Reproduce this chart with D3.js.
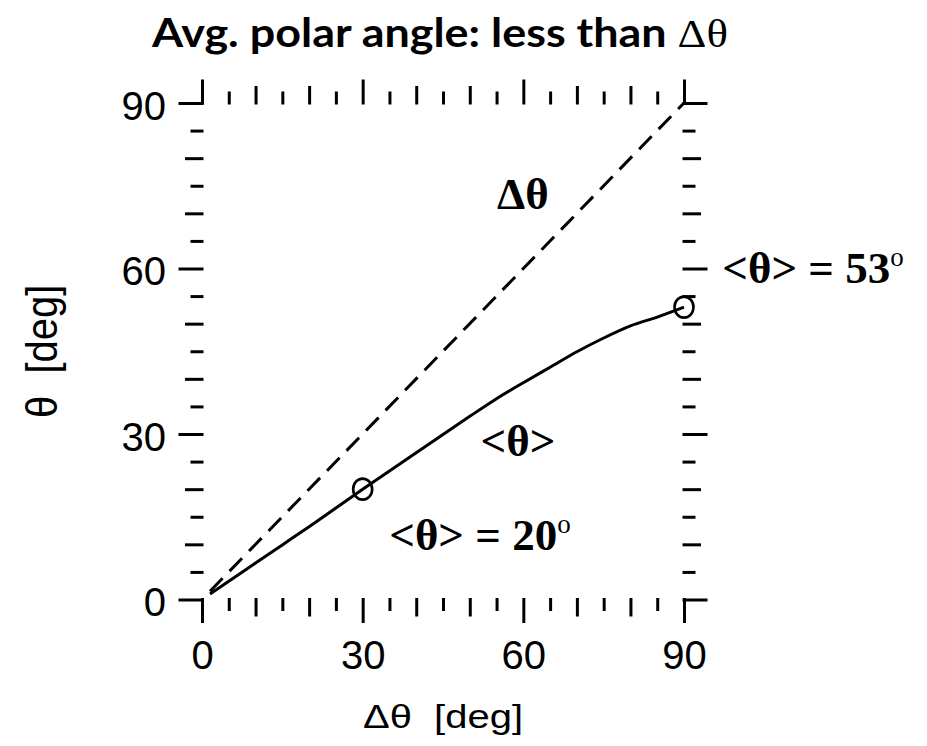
<!DOCTYPE html>
<html>
<head>
<meta charset="utf-8">
<script src="https://cdn.jsdelivr.net/npm/d3@7"></script>
<style>
  html, body { margin: 0; padding: 0; background: #fff; }
  svg { display: block; }
  text { white-space: pre; }
  .tick line { stroke: #000; stroke-width: 3; stroke-linecap: square; }
  .tick text { font-family: "Liberation Sans", Arial, sans-serif; font-size: 40px; fill: #000; }
</style>
</head>
<body>
<svg id="chart" width="927" height="746"></svg>
<script>
// Aperture half-angle Δθ (deg) and the mean polar angle <θ> (deg)
const deltaTheta = [1.5, 5, 10, 15, 20, 25, 30, 35, 40, 45, 50, 55, 60, 65, 70, 75, 80, 85, 90];
const meanTheta  = [1.0, 3.3, 6.6, 9.9, 13.2, 16.6, 20.0, 23.3, 26.6, 29.9, 33.2, 36.4, 39.3, 42.1, 44.9, 47.4, 49.6, 51.2, 53.0];

// Reference line <θ> = Δθ
const diagX = [1.5, 90];
const diagY = [1.5, 90];

// Highlighted points and their values
const markX = [30, 90];
const markY = [20, 53];

// Axis ticks: labelled major ticks, plus medium (every 10) and small (every 5)
const majorTicks = [0, 30, 60, 90];
const mediumTicks = d3.range(10, 90, 10).filter(v => v % 30 !== 0);
const smallTicks = d3.range(5, 90, 10);

const svg = d3.select("#chart");

const x = d3.scaleLinear().domain([0, 90]).range([202, 684]);
const y = d3.scaleLinear().domain([0, 90]).range([599.5, 103]);

// Ticks on all four sides, pointing outward; labels only left and bottom
function drawAxis(axisFn, scale, translate, labelled) {
  [[smallTicks, 10], [mediumTicks, 15.5]].forEach(([vals, size]) => {
    const g = svg.append("g").attr("transform", translate)
      .call(axisFn(scale).tickValues(vals).tickSize(size).tickFormat(""));
    g.select(".domain").remove();
    g.attr("font-family", null).attr("font-size", null);
  });
  const major = svg.append("g").attr("transform", translate)
    .call(axisFn(scale).tickValues(majorTicks).tickSize(22)
      .tickPadding(labelled ? (axisFn === d3.axisLeft ? 14 : 19) : 0)
      .tickFormat(labelled ? d3.format("d") : ""));
  major.select(".domain").remove();
  major.attr("font-family", null).attr("font-size", null);
  return major;
}

const left = drawAxis(d3.axisLeft, y, `translate(${x(0)},0)`, true);
left.selectAll("text").attr("dy", "0.4em");
drawAxis(d3.axisBottom, x, `translate(0,${y(0)})`, true);
drawAxis(d3.axisRight, y, `translate(${x(90)},0)`, false);
drawAxis(d3.axisTop, x, `translate(0,${y(90)})`, false);

// Dashed reference line
svg.append("path")
  .datum(diagX.map((d, i) => [d, diagY[i]]))
  .attr("d", d3.line().x(d => x(d[0])).y(d => y(d[1])))
  .attr("fill", "none").attr("stroke", "#000")
  .attr("stroke-width", 3).attr("stroke-dasharray", "18 10");

// Mean polar angle curve
svg.append("path")
  .datum(deltaTheta.map((d, i) => [d, meanTheta[i]]))
  .attr("d", d3.line().curve(d3.curveMonotoneX).x(d => x(d[0])).y(d => y(d[1])))
  .attr("fill", "none").attr("stroke", "#000").attr("stroke-width", 3);

// Open markers
svg.selectAll("ellipse.mark")
  .data(markX.map((d, i) => [d, markY[i]]))
  .join("ellipse").attr("class", "mark")
  .attr("cx", d => x(d[0])).attr("cy", d => y(d[1]))
  .attr("rx", 9.5).attr("ry", 10.5)
  .attr("fill", "none").attr("stroke", "#000").attr("stroke-width", 2.6);

// Axis titles
svg.append("text")
  .attr("transform", `translate(${(x(0) + x(90)) / 2},728) scale(1,0.85)`)
  .attr("text-anchor", "middle")
  .attr("font-family", "Liberation Sans, Arial, sans-serif")
  .attr("font-size", 40)
  .text("Δθ  [deg]");

svg.append("text")
  .attr("transform", `translate(57,${(y(0) + y(90)) / 2}) rotate(-90) scale(1,1.12)`)
  .attr("text-anchor", "middle")
  .attr("font-family", "Liberation Sans, Arial, sans-serif")
  .attr("font-size", 40)
  .text("θ  [deg]");

// Title
const title = svg.append("text")
  .attr("x", 440).attr("y", 47)
  .attr("text-anchor", "middle")
  .attr("font-family", "Lato, 'Open Sans', sans-serif")
  .attr("font-weight", 700)
  .attr("font-size", 41)
  .attr("textLength", 576).attr("lengthAdjust", "spacingAndGlyphs");
title.append("tspan").text("Avg. polar angle: less than ");
title.append("tspan").attr("font-family", "Liberation Serif, serif").attr("font-weight", 400).text("Δθ");

// Annotations (serif)
function note(cx, cy, main, sup) {
  const t = svg.append("text")
    .attr("x", cx).attr("y", cy)
    .attr("text-anchor", "middle")
    .attr("font-family", "Liberation Serif, 'Times New Roman', serif")
    .attr("font-weight", 700)
    .attr("font-size", 45)
    .attr("fill", "#000");
  t.append("tspan").text(main);
  if (sup) t.append("tspan").attr("font-size", 27).attr("font-weight", 400).attr("dy", -17).text(sup);
  return t;
}
note(x(59.9), y(70.8), "Δθ");
note(x(59.0), y(26.0), "<θ>");
note(x(51.9), y(9.0), `<θ> = ${markY[0]}`, "o");
note(x(114.1), y(57.4), `<θ> = ${markY[1]}`, "o");
</script>
</body>
</html>
